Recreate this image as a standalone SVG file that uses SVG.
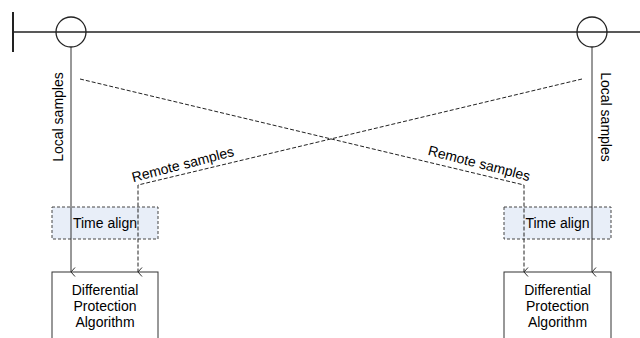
<svg xmlns="http://www.w3.org/2000/svg" width="640" height="338" viewBox="0 0 640 338">
<defs>
<marker id="arr" viewBox="0 0 10 10" refX="5" refY="9" markerWidth="10" markerHeight="10" markerUnits="userSpaceOnUse" orient="auto-start-reverse">
<path d="M0.5,5 L5,9 L9.5,5" fill="none" stroke="#333" stroke-width="1"/>
</marker>
<style>
text{font-family:"Liberation Sans",Arial,sans-serif;font-size:14px;fill:#000}
.bus{stroke:#222;stroke-width:1.3;fill:none}
.solid{stroke:#333;stroke-width:1;fill:none}
.dash{stroke:#222;stroke-width:1;stroke-dasharray:4,2;fill:none}
.ta{fill:#e8eef8;stroke:#444;stroke-width:1;stroke-dasharray:3,2}
.box{fill:#fff;stroke:#333;stroke-width:1}
</style>
</defs>
<rect width="640" height="338" fill="#fff"/>
<g id="bus">
<line class="bus" x1="13" y1="32" x2="640" y2="32"/>
<line x1="13" y1="12" x2="13" y2="52" stroke="#222" stroke-width="2"/>
<circle class="bus" cx="71" cy="32" r="15"/>
<circle class="bus" cx="592" cy="32" r="15"/>
</g>
<g id="time-align-left">
<rect class="ta" x="52" y="207" width="106" height="32"/>
<text x="105" y="228" text-anchor="middle">Time align</text>
</g>
<g id="time-align-right">
<rect class="ta" x="504" y="207" width="107" height="32"/>
<text x="557.5" y="228" text-anchor="middle">Time align</text>
</g>
<g id="dpa-left">
<rect class="box" x="52" y="272" width="106" height="80"/>
<text x="105" y="295" text-anchor="middle">Differential</text>
<text x="105" y="311" text-anchor="middle">Protection</text>
<text x="105" y="327" text-anchor="middle">Algorithm</text>
</g>
<g id="dpa-right">
<rect class="box" x="504" y="272" width="107" height="80"/>
<text x="557.5" y="295" text-anchor="middle">Differential</text>
<text x="557.5" y="311" text-anchor="middle">Protection</text>
<text x="557.5" y="327" text-anchor="middle">Algorithm</text>
</g>
<g id="connectors">
<line class="solid" x1="71" y1="47" x2="71" y2="272" marker-end="url(#arr)"/>
<line class="solid" x1="592" y1="47" x2="592" y2="272" marker-end="url(#arr)"/>
<polyline class="dash" points="80,79 524,185 524,272" marker-end="url(#arr)"/>
<polyline class="dash" points="582,79 138,185 138,272" marker-end="url(#arr)"/>
<text transform="translate(63,117) rotate(-90)" text-anchor="middle">Local samples</text>
<text transform="translate(601,117) rotate(90)" text-anchor="middle">Local samples</text>
<text transform="translate(184,169) rotate(-14.5)" text-anchor="middle">Remote samples</text>
<text transform="translate(478,168) rotate(14.5)" text-anchor="middle">Remote samples</text>
</g>
</svg>
